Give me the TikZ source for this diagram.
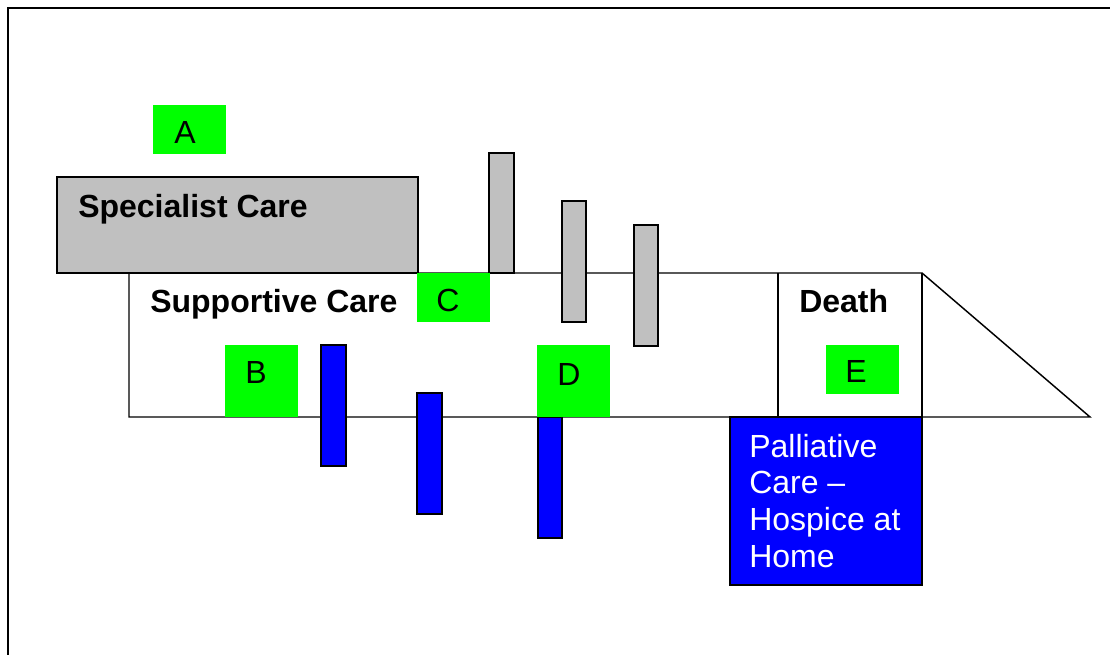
\documentclass[tikz,border=0pt]{standalone}
\usepackage{fontspec}
\setmainfont{Liberation Sans}
\definecolor{careGrey}{HTML}{C0C0C0}
\definecolor{careBlue}{HTML}{0000FF}
\definecolor{careGreen}{HTML}{00FF00}
\begin{document}
\begin{tikzpicture}[x=0.75pt,y=-0.75pt,
  frame/.style={draw=black,line width=1.5pt},
  outline/.style={draw=black,line width=1.1pt},
  greybox/.style={outline,fill=careGrey},
  bluebox/.style={outline,fill=careBlue},
  greentag/.style={fill=careGreen},
  txt/.style={inner sep=0pt,anchor=base west,font=\fontsize{24}{27.4}\selectfont},
  headtxt/.style={txt,font=\fontsize{24}{27.4}\selectfont\bfseries}]
\useasboundingbox (0,0) rectangle (1110,655);

% page frame (top and left edges)
\draw[frame] (1110,8) -- (8,8) -- (8,655);

% supportive care band with the arrow-shaped end
\draw[outline,fill=white] (129,273) -- (922,273) -- (1090,417) -- (129,417) -- cycle;
% death section
\draw[outline] (778,273) -- (778,417);
\draw[outline] (922,273) -- (922,417);

% specialist care block
\draw[greybox] (57,177) rectangle (418,273);

% specialist interventions
\draw[greybox] (489,153) rectangle (514,273);
\draw[greybox] (562,201) rectangle (586,322);
\draw[greybox] (634,225) rectangle (658,346);

% supportive interventions
\draw[bluebox] (321,345) rectangle (346,466);
\draw[bluebox] (417,393) rectangle (442,514);
\draw[bluebox] (538,417) rectangle (562,538);

% lettered markers
\fill[greentag] (153,105) rectangle (226,154);
\fill[greentag] (225,345) rectangle (298,417);
\fill[greentag] (417,273) rectangle (490,322);
\fill[greentag] (537,345) rectangle (610,417);
\fill[greentag] (826,345) rectangle (899,394);

% palliative care block
\draw[bluebox] (730,417) rectangle (922,585);

% texts
\node[headtxt] (spec) at (78,218) {Specialist Care};
\node[headtxt] (supp) at (150,313) {Supportive Care};
\node[headtxt] (death) at (799,313) {Death};
\node[txt] (a) at (174,144) {A};
\node[txt] (b) at (245,384) {B};
\node[txt] (c) at (436,312) {C};
\node[txt] (d) at (557,386) {D};
\node[txt] (e) at (845,383) {E};
% multi-line node: base anchor sits on the last line
\node[txt,align=left,text=white] (pall) at (749,567)
  {Palliative\\Care –\\Hospice at\\Home};
\end{tikzpicture}
\end{document}
